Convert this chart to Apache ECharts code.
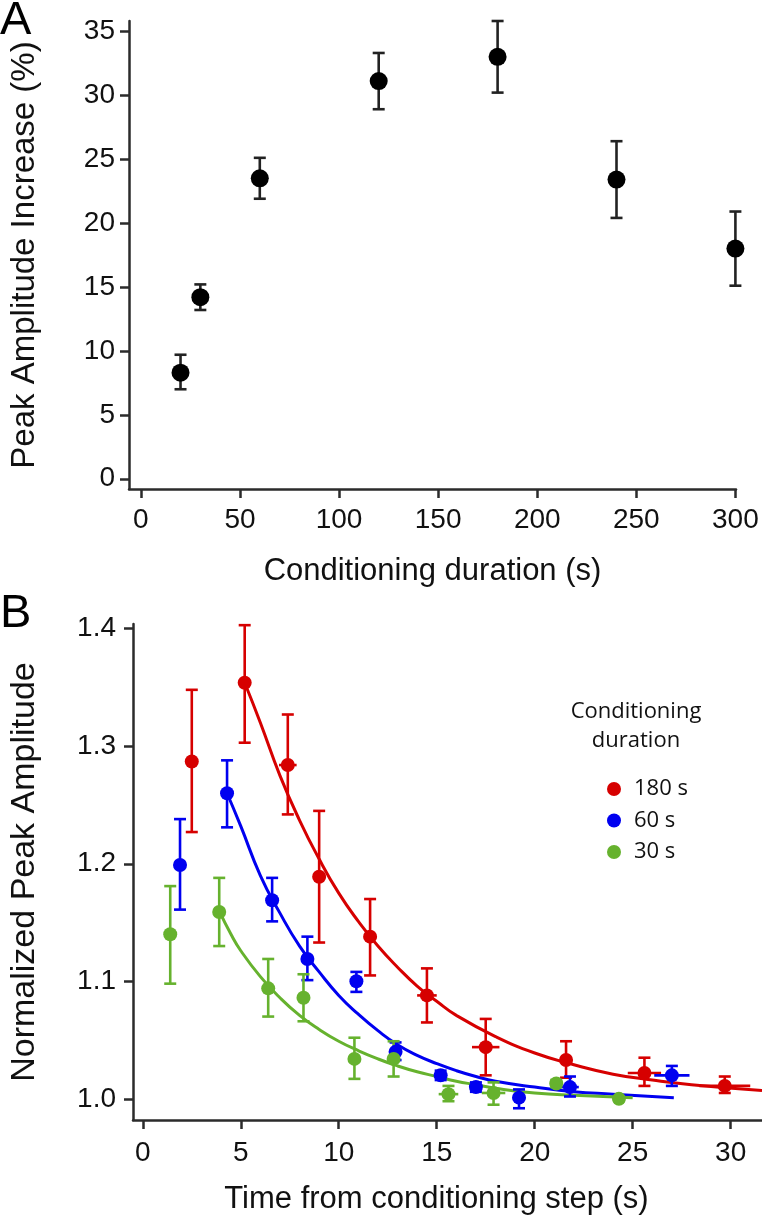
<!DOCTYPE html>
<html>
<head>
<meta charset="utf-8">
<script src="https://cdn.jsdelivr.net/npm/echarts@6/dist/echarts.min.js"></script>
<style>
  html, body { margin: 0; padding: 0; background: #fff; }
  #chart { width: 762px; height: 1229px; }
</style>
</head>
<body>
<div id="chart"></div>
<script>
// ---------- Panel A data ----------
const durations = [20, 30, 60, 120, 180, 240, 300];
const ampIncrease = [8.3, 14.2, 23.5, 31.1, 33.0, 23.4, 18.0];
const ampLow = [7.0, 13.2, 21.9, 28.9, 30.2, 20.4, 15.1];
const ampHigh = [9.7, 15.2, 25.1, 33.3, 35.8, 26.4, 20.9];
const ticksA_x = [0, 50, 100, 150, 200, 250, 300];
const ticksA_y = [0, 5, 10, 15, 20, 25, 30, 35];

// ---------- Panel B data ----------
const redTime = [2.5, 5.2, 7.4, 9.0, 11.6, 14.5, 17.5, 21.6, 25.6, 29.7];
const redVal  = [1.287, 1.354, 1.284, 1.189, 1.138, 1.088, 1.044, 1.033, 1.022, 1.011];
const redLow  = [1.227, 1.303, 1.242, 1.133, 1.105, 1.065, 1.020, 1.018, 1.011, 1.005];
const redHigh = [1.348, 1.403, 1.327, 1.245, 1.170, 1.111, 1.068, 1.049, 1.035, 1.019];
const redTErr = [0, 0, 0.45, 0, 0, 0.5, 0.7, 0, 0.85, 1.3];

const blueTime = [1.9, 4.3, 6.6, 8.4, 10.9, 12.9, 15.2, 17.0, 19.2, 21.8, 27.0];
const blueVal  = [1.199, 1.260, 1.169, 1.119, 1.100, 1.040, 1.020, 1.010, 1.001, 1.010, 1.020];
const blueLow  = [1.161, 1.231, 1.151, 1.101, 1.091, 1.033, 1.016, 1.006, 0.992, 1.002, 1.011];
const blueHigh = [1.238, 1.288, 1.188, 1.138, 1.108, 1.048, 1.024, 1.014, 1.008, 1.019, 1.028];
const blueTErr = [0, 0, 0, 0, 0, 0, 0, 0, 0, 0.45, 0.9];

const greenTime = [1.4, 3.9, 6.4, 8.2, 10.8, 12.8, 15.6, 17.9, 21.1, 24.3];
const greenVal  = [1.140, 1.159, 1.094, 1.086, 1.034, 1.034, 1.004, 1.005, 1.013, 1.000];
const greenLow  = [1.098, 1.130, 1.070, 1.066, 1.017, 1.019, 0.998, 0.995, 1.010, 0.998];
const greenHigh = [1.181, 1.188, 1.119, 1.106, 1.052, 1.049, 1.011, 1.014, 1.016, 1.002];
const greenTErr = [0, 0, 0, 0, 0, 0, 0.5, 0.6, 0, 0];

// fitted decay curves
const redFitT = [5.2, 6, 7, 8, 9, 10, 11, 12, 13, 14, 15, 16, 18, 20, 22, 24, 26, 28, 31.6];
const redFitV = [1.354, 1.320, 1.275, 1.237, 1.204, 1.175, 1.151, 1.130, 1.112, 1.096, 1.083, 1.071, 1.053, 1.039, 1.029, 1.021, 1.016, 1.012, 1.007];
const blueFitT = [4.3, 5, 6, 7, 8, 9, 10, 11, 12, 13, 14, 15, 16, 17, 18, 20, 22, 24, 27.1];
const blueFitV = [1.260, 1.232, 1.190, 1.158, 1.130, 1.108, 1.088, 1.072, 1.058, 1.046, 1.037, 1.030, 1.024, 1.019, 1.015, 1.010, 1.006, 1.004, 1.001];
const greenFitT = [3.9, 4.5, 5, 6, 7, 8, 9, 10, 11, 12, 13, 14, 15, 16, 17, 18, 20, 22, 25];
const greenFitV = [1.160, 1.140, 1.126, 1.104, 1.086, 1.071, 1.059, 1.049, 1.041, 1.034, 1.028, 1.023, 1.019, 1.015, 1.012, 1.009, 1.005, 1.003, 1.001];

const ticksB_x = [0, 5, 10, 15, 20, 25, 30];
const ticksB_y = [1.0, 1.1, 1.2, 1.3, 1.4];
const legendNames = ['180 s', '60 s', '30 s'];
const legendTitle = 'Conditioning\nduration';

// ---------- styling ----------
const AX = '#2b2b2b';
const RED = '#d60000';
const BLUE = '#0000f0';
const GREEN = '#66b22e';
const FONT = '"Liberation Sans", Arial, sans-serif';
const TICK_FS = 28;
const XTITLE_FS = 31;
const YTITLE_FS = 33;

function zip(...arrs) { return arrs[0].map((_, i) => arrs.map(a => a[i])); }

function errorBarSeries(name, xi, yi, data, color, capHalf, width) {
  return {
    type: 'custom', name: name, xAxisIndex: xi, yAxisIndex: yi, z: 3,
    silent: true,
    renderItem: function (params, api) {
      const x = api.value(0), y = api.value(1), lo = api.value(2), hi = api.value(3), xe = api.value(4);
      const pLo = api.coord([x, lo]);
      const pHi = api.coord([x, hi]);
      const children = [
        { type: 'line', shape: { x1: pLo[0], y1: pLo[1], x2: pHi[0], y2: pHi[1] }, style: { stroke: color, lineWidth: width } },
        { type: 'line', shape: { x1: pLo[0] - capHalf, y1: pLo[1], x2: pLo[0] + capHalf, y2: pLo[1] }, style: { stroke: color, lineWidth: width } },
        { type: 'line', shape: { x1: pHi[0] - capHalf, y1: pHi[1], x2: pHi[0] + capHalf, y2: pHi[1] }, style: { stroke: color, lineWidth: width } }
      ];
      if (xe > 0) {
        const a = api.coord([x - xe, y]);
        const b = api.coord([x + xe, y]);
        children.push({ type: 'line', shape: { x1: a[0], y1: a[1], x2: b[0], y2: b[1] }, style: { stroke: color, lineWidth: width } });
      }
      return { type: 'group', children: children };
    },
    encode: { x: 0, y: 1 },
    data: data
  };
}

function axis(extra, ticks, labelExtra, nameExtra) {
  return Object.assign({
    type: 'value',
    axisLine: { show: true, onZero: false, lineStyle: { color: AX, width: 2.5 } },
    axisTick: { show: true, inside: false, length: 9, customValues: ticks, lineStyle: { color: AX, width: 2.5 } },
    axisLabel: Object.assign({ color: '#111', fontFamily: FONT, fontSize: TICK_FS, customValues: ticks }, labelExtra),
    splitLine: { show: false },
    nameLocation: 'middle',
    nameTextStyle: Object.assign({ color: '#111', fontFamily: FONT }, nameExtra)
  }, extra);
}

const chart = echarts.init(document.getElementById('chart'), null, { renderer: 'canvas' });

const option = {
  animation: false,
  backgroundColor: '#fff',
  grid: [
    { left: 126, top: 21, width: 610, height: 468 },
    { left: 130, top: 624, width: 632, height: 496 }
  ],
  xAxis: [
    axis({ gridIndex: 0, min: -6.0, max: 300.3, name: 'Conditioning duration (s)', nameGap: 67 },
      ticksA_x, { margin: 17 }, { fontSize: XTITLE_FS }),
    axis({ gridIndex: 1, min: -0.5, max: 31.6, name: 'Time from conditioning step (s)', nameGap: 64 },
      ticksB_x, { margin: 19 }, { fontSize: XTITLE_FS, padding: [0, 0, 0, -22] })
  ],
  yAxis: [
    axis({ gridIndex: 0, min: -0.8, max: 35.8, name: 'Peak Amplitude Increase (%)', nameGap: 88 },
      ticksA_y, { margin: 14 }, { fontSize: YTITLE_FS }),
    axis({ gridIndex: 1, min: 0.982, max: 1.404, name: 'Normalized Peak Amplitude', nameGap: 91 },
      ticksB_y, { margin: 17, formatter: v => v.toFixed(1) }, { fontSize: YTITLE_FS + 1 })
  ],
  title: {
    text: legendTitle, left: 631, top: 692, textAlign: 'center',
    textStyle: { fontFamily: '"Open Sans", sans-serif', fontWeight: 'normal', fontSize: 22, color: '#111', lineHeight: 29 }
  },
  legend: {
    data: legendNames, orient: 'vertical', left: 602, top: 773,
    itemWidth: 14, itemHeight: 14, itemGap: 9.5, icon: 'circle',
    textStyle: { fontFamily: '"Open Sans", sans-serif', fontSize: 22, color: '#111', lineHeight: 22, padding: [0, 0, 0, 8] },
    selectedMode: false
  },
  graphic: [
    { type: 'text', left: 0, top: -2, style: { text: 'A', fontFamily: FONT, fontSize: 47, fill: '#000' } },
    { type: 'text', left: 0, top: 591, style: { text: 'B', fontFamily: FONT, fontSize: 47, fill: '#000' } }
  ],
  series: [
    errorBarSeries('errA', 0, 0, zip(durations, ampIncrease, ampLow, ampHigh, durations.map(() => 0)), '#222', 6, 2.6),
    {
      type: 'scatter', name: 'A', xAxisIndex: 0, yAxisIndex: 0, z: 4,
      symbol: 'circle', symbolSize: 18, itemStyle: { color: '#000', opacity: 1 },
      data: zip(durations, ampIncrease)
    },
    { type: 'line', name: 'fit180', xAxisIndex: 1, yAxisIndex: 1, smooth: true, showSymbol: false, z: 2,
      lineStyle: { color: RED, width: 3 }, data: zip(redFitT, redFitV) },
    { type: 'line', name: 'fit60', xAxisIndex: 1, yAxisIndex: 1, smooth: true, showSymbol: false, z: 2,
      lineStyle: { color: BLUE, width: 3 }, data: zip(blueFitT, blueFitV) },
    { type: 'line', name: 'fit30', xAxisIndex: 1, yAxisIndex: 1, smooth: true, showSymbol: false, z: 2,
      lineStyle: { color: GREEN, width: 3 }, data: zip(greenFitT, greenFitV) },
    errorBarSeries('err180', 1, 1, zip(redTime, redVal, redLow, redHigh, redTErr), RED, 6, 2.6),
    errorBarSeries('err60', 1, 1, zip(blueTime, blueVal, blueLow, blueHigh, blueTErr), BLUE, 6, 2.6),
    errorBarSeries('err30', 1, 1, zip(greenTime, greenVal, greenLow, greenHigh, greenTErr), GREEN, 6, 2.6),
    { type: 'scatter', name: legendNames[0], xAxisIndex: 1, yAxisIndex: 1, z: 4, symbolSize: 14,
      itemStyle: { color: RED, opacity: 1 }, data: zip(redTime, redVal) },
    { type: 'scatter', name: legendNames[1], xAxisIndex: 1, yAxisIndex: 1, z: 4, symbolSize: 14,
      itemStyle: { color: BLUE, opacity: 1 }, data: zip(blueTime, blueVal) },
    { type: 'scatter', name: legendNames[2], xAxisIndex: 1, yAxisIndex: 1, z: 4, symbolSize: 14,
      itemStyle: { color: GREEN, opacity: 1 }, data: zip(greenTime, greenVal) }
  ]
};
chart.setOption(option);
</script>
</body>
</html>
